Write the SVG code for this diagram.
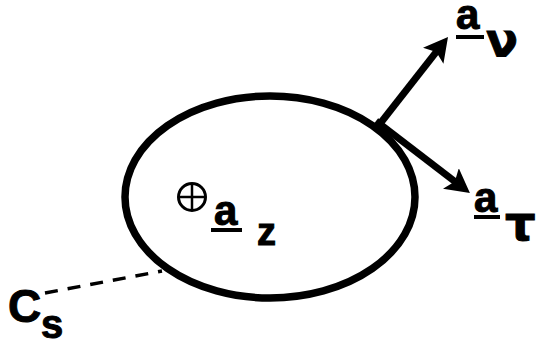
<svg xmlns="http://www.w3.org/2000/svg" width="541" height="342" viewBox="0 0 541 342">
<style>
.t{font-family:"Liberation Sans",Arial,sans-serif;font-weight:bold;fill:#000;stroke:#000;stroke-width:1}
.g{font-family:"DejaVu Sans","Liberation Sans",sans-serif;font-weight:bold;fill:#000;stroke:#000;stroke-width:1}
.ul{stroke:#000;stroke-width:4}
.vec{stroke:#000;stroke-width:7;fill:none}
</style>
<defs>
<marker id="ah" markerUnits="userSpaceOnUse" viewBox="0 0 24 26" refX="12" refY="13" markerWidth="24" markerHeight="26" orient="auto">
<path d="M0,0 L24,13 L0,26 L5,13 Z" fill="#000"/>
</marker>
</defs>
<g id="curve">
<ellipse cx="270" cy="197" rx="145" ry="101" fill="none" stroke="#000" stroke-width="7.5"/>
</g>
<g id="connectors">
<line class="vec" x1="379" y1="125" x2="440.6" y2="46.4" marker-end="url(#ah)"/>
<line class="vec" x1="376" y1="121" x2="460.4" y2="185.8" marker-end="url(#ah)"/>
<line x1="45" y1="293" x2="162" y2="271" stroke="#000" stroke-width="3.5" stroke-dasharray="13,10"/>
</g>
<g id="label-nu">
<text class="t" x="456" y="29" font-size="42">a</text>
<line class="ul" x1="456" y1="37" x2="484" y2="37"/>
<text class="g" x="486" y="56" font-size="47">ν</text>
</g>
<g id="label-tau">
<text class="t" x="474" y="212" font-size="42">a</text>
<line class="ul" x1="474" y1="217" x2="500" y2="217"/>
<text class="g" x="505" y="240" font-size="48">τ</text>
</g>
<g id="label-z">
<circle cx="192" cy="197" r="13.5" fill="none" stroke="#000" stroke-width="3"/>
<line x1="179" y1="197" x2="205" y2="197" stroke="#000" stroke-width="2.5"/>
<line x1="192" y1="184" x2="192" y2="210" stroke="#000" stroke-width="2.5"/>
<text class="t" x="214" y="225" font-size="42">a</text>
<line class="ul" x1="211" y1="230" x2="242" y2="230"/>
<text class="t" x="257" y="245" font-size="38">z</text>
</g>
<g id="label-cs">
<text class="t" x="8" y="322" font-size="46">C</text>
<text class="t" x="41" y="338" font-size="40">s</text>
</g>
</svg>
